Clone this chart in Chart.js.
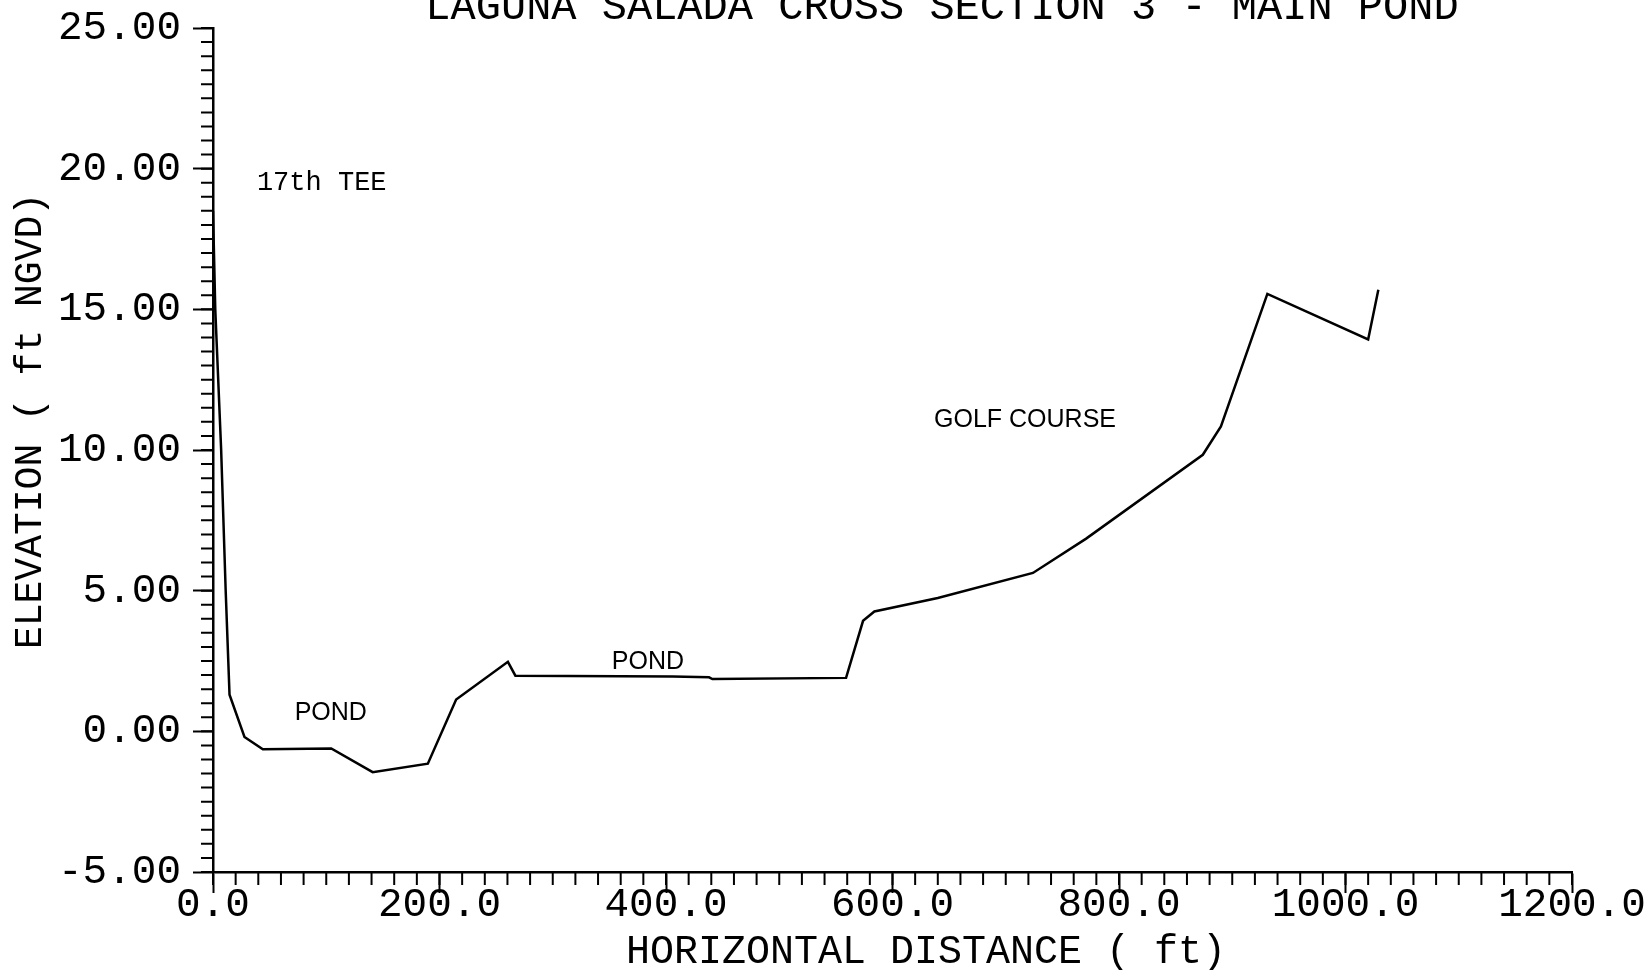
<!DOCTYPE html>
<html>
<head>
<meta charset="utf-8">
<title>Laguna Salada Cross Section 3 - Main Pond</title>
<script src="https://cdn.jsdelivr.net/npm/chart.js@4.4.1/dist/chart.umd.min.js"></script>
<style>
  html, body { margin: 0; padding: 0; background: #fff; }
  #wrap { width: 1649px; height: 970px; position: relative; }
</style>
</head>
<body>
<div id="wrap"><canvas id="xsChart"></canvas></div>
<script>
const distance = [0, 2, 7.2, 11.2, 14.6, 27.8, 44, 104.4, 141, 189.7, 214.7, 260.4, 267, 406, 438, 441, 559, 574, 584, 640, 724, 771, 874, 890, 931, 1020, 1029];
const elevation = [18.5, 15, 10, 5, 1.3, -0.2, -0.64, -0.61, -1.45, -1.15, 1.13, 2.47, 1.98, 1.95, 1.92, 1.86, 1.9, 3.93, 4.26, 4.74, 5.63, 6.85, 9.83, 10.84, 15.55, 13.93, 15.7];

const xTicks = [0, 200, 400, 600, 800, 1000, 1200];
const yTicks = [-5, 0, 5, 10, 15, 20, 25];

const notes = [
    { text: "17th TEE", x: 96, y: 19.5, mono: true },
    { text: "POND", x: 104, y: 0.65 },
    { text: "POND", x: 384, y: 2.45 },
    { text: "GOLF COURSE", x: 717, y: 11.05 },
];

const mono = "'Liberation Mono', 'DejaVu Sans Mono', monospace";
const sans = "'Liberation Sans', Arial, sans-serif";

const points = distance.map((d, i) => ({ x: d, y: elevation[i] }));

// short ticks between the labelled ones
const minorTicks = {
    id: "minorTicks",
    afterDraw(chart) {
        const { ctx, scales: { x, y } } = chart;
        ctx.save();
        ctx.strokeStyle = "#000";
        ctx.lineWidth = 2;
        ctx.beginPath();
        for (let v = x.min; v <= x.max + 0.01; v += 20) {
            let px = x.getPixelForValue(v);
            ctx.moveTo(px, x.top);
            ctx.lineTo(px, x.top + 13);
        }
        for (let v = y.min; v <= y.max + 0.01; v += 0.5) {
            let py = y.getPixelForValue(v);
            ctx.moveTo(y.right, py);
            ctx.lineTo(y.right - 12, py);
        }
        ctx.stroke();
        ctx.restore();
    }
};

const plotText = {
    id: "plotText",
    afterDraw(chart) {
        const { ctx, scales: { x, y } } = chart;
        ctx.save();
        ctx.fillStyle = "#000";
        ctx.textAlign = "center";

        ctx.textBaseline = "alphabetic";
        ctx.font = "42px " + mono;
        ctx.fillText("LAGUNA SALADA CROSS SECTION 3 - MAIN POND", 942, 19);

        ctx.textBaseline = "middle";
        ctx.font = "40px " + mono;
        ctx.fillText("HORIZONTAL DISTANCE ( ft)", 926, 952);

        ctx.save();
        ctx.translate(31, 421);
        ctx.rotate(-Math.PI / 2);
        ctx.font = "38px " + mono;
        ctx.fillText("ELEVATION ( ft NGVD)", 0, 0);
        ctx.restore();

        notes.forEach(n => {
            ctx.font = n.mono ? "27px " + mono : "25px " + sans;
            ctx.fillText(n.text, x.getPixelForValue(n.x), y.getPixelForValue(n.y));
        });
        ctx.restore();
    }
};

const config = {
    type: "line",
    data: {
        datasets: [{
            label: "Ground profile",
            data: points,
            borderColor: "#000",
            borderWidth: 2.5,
            pointRadius: 0,
            fill: false,
            tension: 0,
        }],
    },
    options: {
        responsive: true,
        maintainAspectRatio: false,
        animation: false,
        layout: { padding: { left: 0, top: 28, right: 77, bottom: 0 } },
        plugins: {
            legend: { display: false },
            tooltip: { enabled: false },
        },
        scales: {
            x: {
                type: "linear",
                min: 0,
                max: 1200,
                afterBuildTicks: s => { s.ticks = xTicks.map(v => ({ value: v })); },
                afterFit: s => {
                    s.height = 98;
                    s.paddingLeft = 0;
                    s.paddingRight = 0;
                },
                border: { display: true, color: "#000", width: 2.5 },
                grid: { drawOnChartArea: false, tickLength: 21, tickColor: "#000", tickWidth: 2 },
                ticks: {
                    color: "#000",
                    padding: -12,
                    maxRotation: 0,
                    font: { family: mono, size: 41 },
                    callback: v => v.toFixed(1),
                },
            },
            y: {
                type: "linear",
                min: -5,
                max: 25,
                afterBuildTicks: s => { s.ticks = yTicks.map(v => ({ value: v })); },
                afterFit: s => {
                    s.width = 213;
                    s.paddingTop = 0;
                    s.paddingBottom = 0;
                },
                border: { display: true, color: "#000", width: 2.5 },
                grid: { drawOnChartArea: false, tickLength: 20, tickColor: "#000", tickWidth: 2 },
                ticks: {
                    color: "#000",
                    padding: 12,
                    font: { family: mono, size: 41 },
                    callback: v => v.toFixed(2),
                },
            },
        },
    },
    plugins: [minorTicks, plotText],
};

const xsChart = new Chart(document.getElementById("xsChart"), config);
</script>
</body>
</html>
